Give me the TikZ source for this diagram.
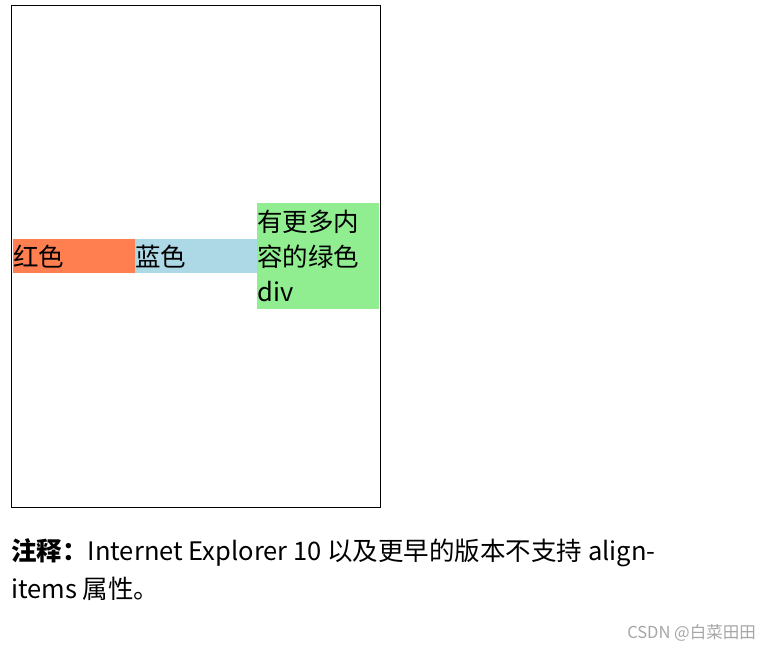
\documentclass[tikz,border=0pt]{standalone}
\usepackage{fontspec}
\setmainfont{Noto Sans CJK SC}
\definecolor{coral}{RGB}{255,127,80}
\definecolor{lblue}{RGB}{173,216,230}
\definecolor{lgreen}{RGB}{144,238,144}
\tikzset{lbl/.style={anchor=west,inner sep=0pt,font=\fontsize{25.5}{36}\selectfont}}
\begin{document}
\begin{tikzpicture}[x=1pt,y=-1pt]
\useasboundingbox[fill=white] (0,0) rectangle (769,652);
\draw[line width=0.8pt] (11,5) rectangle (380,507);
\fill[coral] (13,239) rectangle (135,273);
\fill[lblue] (135,239) rectangle (257,273);
\fill[lgreen] (257,203) rectangle (379,309);
\node[lbl] (r) at (13,257) {红色};
\node[lbl] (b) at (135,257) {蓝色};
\node[lbl] (g1) at (257,222) {有更多内};
\node[lbl] (g2) at (257,257) {容的绿色};
\node[lbl] (g3) at (257,292) {div};
\node[lbl] (n1) at (11,553) {\textbf{注释：}Internet Explorer 10 以及更早的版本不支持 align-};
\node[lbl] (n2) at (11,589) {items 属性。};
\node[anchor=east,inner sep=0pt,text=gray!70,font=\fontsize{16.5}{18}\selectfont] (w) at (756,633) {CSDN @白菜田田};
\end{tikzpicture}
\end{document}
